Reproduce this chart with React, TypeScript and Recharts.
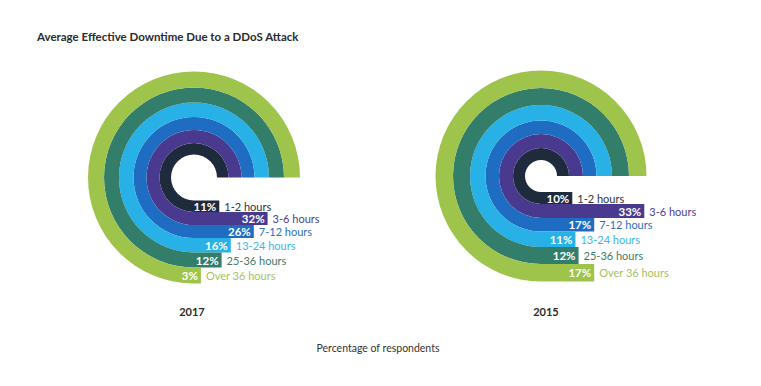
import React from "react";
import { PieChart, Pie, ComposedChart, XAxis, YAxis, ReferenceArea, Scatter } from "recharts";

// ---- data ----
const categories = ["1-2 hours", "3-6 hours", "7-12 hours", "13-24 hours", "25-36 hours", "Over 36 hours"];
const values2017 = [11, 32, 26, 16, 12, 3];
const values2015 = [10, 33, 17, 11, 12, 17];
const yearLabels = ["2017", "2015"];
const title = "Average Effective Downtime Due to a DDoS Attack";
const footer = "Percentage of respondents";

// ---- styles / layout ----
const W = 761;
const H = 386;
const FONT = "Lato, 'Open Sans', sans-serif";
const COLORS = ["#1e2b3c", "#4a3a8f", "#1f6dc2", "#27b1e6", "#327e6b", "#9fc44b"];
const LABEL_COLORS = ["#2a3342", "#4d4190", "#2a6ec0", "#3db5e6", "#3f7a6a", "#a5c065"];

const layouts = [
  { cx: 194, cy: 177.5, radii: [23, 34.5, 47.5, 60.5, 75, 90, 106], k: 2.3, yearX: 192, yearY: 316 },
  { cx: 541, cy: 176, radii: [16, 28, 42, 55.5, 71, 88, 105.5], k: 3.13, yearX: 546, yearY: 316 },
];
const series = [values2017, values2015];

const LabelShape = (props: any) => {
  const { cx = 0, cy = 0, payload } = props;
  if (!payload) return null;
  return (
    <g>
      <text
        x={cx - 3}
        y={cy}
        textAnchor="end"
        dominantBaseline="central"
        fill="#ffffff"
        fontFamily={FONT}
        fontWeight={700}
        fontSize={11.5}
      >
        {payload.x}%
      </text>
      <text
        x={cx + 5}
        y={cy}
        textAnchor="start"
        dominantBaseline="central"
        fill={LABEL_COLORS[payload.idx]}
        fontFamily={FONT}
        fontSize={11}
      >
        {payload.cat}
      </text>
    </g>
  );
};

const ZERO = { top: 0, right: 0, bottom: 0, left: 0 };
const abs: React.CSSProperties = { position: "absolute", left: 0, top: 0 };

export default function App() {
  return (
    <div style={{ position: "absolute", left: 0, top: 0, width: W, height: H, background: "#fff" }}>
      <div style={abs}>
        <PieChart width={W} height={H} margin={ZERO}>
          {layouts.map((L, yi) =>
            categories.map((c, i) => (
              <Pie
                key={`ring-${yi}-${i}`}
                data={[{ name: c, value: 1 }]}
                dataKey="value"
                cx={L.cx}
                cy={L.cy}
                innerRadius={L.radii[i]}
                outerRadius={L.radii[i + 1]}
                startAngle={0}
                endAngle={270}
                fill={COLORS[i]}
                stroke="none"
                isAnimationActive={false}
              />
            ))
          )}
        </PieChart>
      </div>
      {layouts.map((L, yi) => {
        const rows = series[yi].map((v, i) => ({
          x: v,
          y: (L.radii[i] + L.radii[i + 1]) / 2,
          cat: categories[i],
          idx: i,
        }));
        return (
          <div style={abs} key={`bars-${yi}`}>
            <ComposedChart width={W} height={H} margin={ZERO}>
              <XAxis
                type="number"
                dataKey="x"
                hide
                allowDataOverflow
                domain={[-L.cx / L.k, (W - L.cx) / L.k]}
              />
              <YAxis
                type="number"
                dataKey="y"
                hide
                allowDataOverflow
                reversed
                domain={[-L.cy, H - L.cy]}
              />
              {series[yi].map((v, i) => (
                <ReferenceArea
                  key={`bar-${yi}-${i}`}
                  x1={0}
                  x2={v}
                  y1={L.radii[i]}
                  y2={L.radii[i + 1]}
                  fill={COLORS[i]}
                  fillOpacity={1}
                  stroke="none"
                  ifOverflow="visible"
                />
              ))}
              <Scatter data={rows} dataKey="y" shape={<LabelShape />} isAnimationActive={false} />
            </ComposedChart>
          </div>
        );
      })}
      <svg width={W} height={H} style={{ ...abs, pointerEvents: "none" }}>
        <text x={37} y={40.5} fontFamily={FONT} fontWeight={700} fontSize={11.5} fill="#2b2b2b">
          {title}
        </text>
        {layouts.map((L, yi) => (
          <text
            key={`year-${yi}`}
            x={L.yearX}
            y={L.yearY}
            textAnchor="middle"
            fontFamily={FONT}
            fontWeight={700}
            fontSize={11}
            fill="#2b2b2b"
          >
            {yearLabels[yi]}
          </text>
        ))}
        <text x={378} y={352} textAnchor="middle" fontFamily={FONT} fontSize={10.5} fill="#333">
          {footer}
        </text>
      </svg>
    </div>
  );
}
